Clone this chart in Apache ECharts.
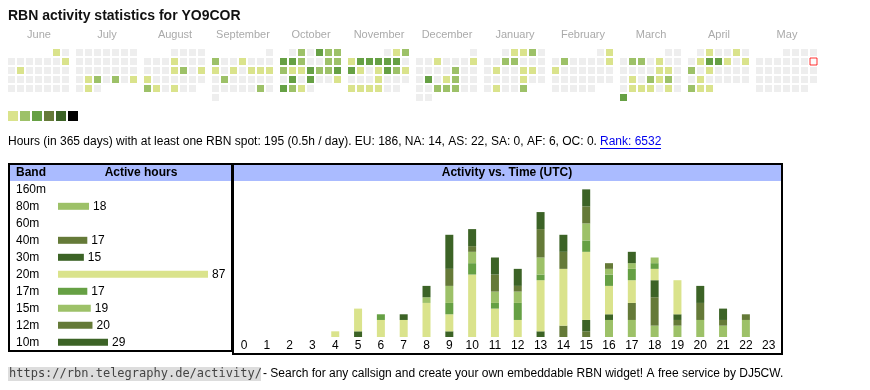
<!DOCTYPE html>
<html><head><meta charset="utf-8">
<script src="https://cdn.jsdelivr.net/npm/echarts@6/dist/echarts.min.js"></script>
<style>html,body{margin:0;padding:0;background:#fff}#c{width:870px;height:390px}</style>
</head><body><div id="c"></div>
<script>
const FONT = '"Liberation Sans", Arial, Helvetica, sans-serif';
const MONO = '"DejaVu Sans Mono", "Liberation Mono", monospace';

// ---- calendar data ----
const months = ['2024-06','2024-07','2024-08','2024-09','2024-10','2024-11','2024-12','2025-01','2025-02','2025-03','2025-04','2025-05'];
const monthNames = ['June','July','August','September','October','November','December','January','February','March','April','May'];
const today = '2025-05-11';
const levelColors = ['#dae38c','#9dc168','#66a044','#657a38','#3c6326','#000000'];
const activeDays = [
  ['2024-06-01',1],['2024-06-09',1],['2024-06-11',1],
  ['2024-07-23',1],['2024-07-24',2],['2024-07-26',2],['2024-07-28',1],['2024-07-30',1],
  ['2024-08-08',1],['2024-08-15',1],['2024-08-16',2],['2024-08-18',1],['2024-08-19',1],['2024-08-26',2],['2024-08-27',1],['2024-08-29',1],
  ['2024-09-02',2],['2024-09-05',1],['2024-09-09',1],['2024-09-11',1],['2024-09-13',1],['2024-09-14',1],['2024-09-15',1],['2024-09-17',2],['2024-09-28',2],
  ['2024-10-02',2],['2024-10-04',3],['2024-10-05',2],['2024-10-06',2],['2024-10-07',3],['2024-10-08',3],['2024-10-09',2],['2024-10-12',2],['2024-10-13',2],
  ['2024-10-14',2],['2024-10-15',1],['2024-10-16',1],['2024-10-17',3],['2024-10-18',2],['2024-10-19',2],['2024-10-20',3],['2024-10-22',3],['2024-10-24',3],
  ['2024-10-27',1],['2024-10-28',3],['2024-10-29',2],['2024-10-30',1],
  ['2024-11-02',1],['2024-11-03',2],['2024-11-04',1],['2024-11-05',3],['2024-11-06',3],['2024-11-07',3],['2024-11-08',3],['2024-11-09',3],
  ['2024-11-11',3],['2024-11-12',1],['2024-11-14',1],['2024-11-15',3],['2024-11-16',2],['2024-11-17',1],['2024-11-21',1],
  ['2024-11-25',1],['2024-11-26',1],['2024-11-27',1],['2024-11-28',1],
  ['2024-12-04',1],['2024-12-08',1],['2024-12-13',2],['2024-12-17',3],['2024-12-19',1],['2024-12-20',2],['2024-12-25',2],['2024-12-26',2],['2024-12-27',2],
  ['2025-01-02',1],['2025-01-03',1],['2025-01-04',2],['2025-01-08',2],['2025-01-09',2],['2025-01-14',1],['2025-01-17',1],['2025-01-18',1],['2025-01-24',1],['2025-01-28',1],['2025-01-31',2],
  ['2025-02-02',1],['2025-02-04',2],['2025-02-09',1],['2025-02-10',1],
  ['2025-03-04',2],['2025-03-05',2],['2025-03-07',1],['2025-03-14',1],['2025-03-15',1],['2025-03-18',1],['2025-03-20',2],['2025-03-21',1],['2025-03-22',2],
  ['2025-03-25',1],['2025-03-26',1],['2025-03-27',1],['2025-03-29',1],['2025-03-31',3],
  ['2025-04-02',1],['2025-04-05',1],['2025-04-08',1],['2025-04-09',3],['2025-04-10',3],['2025-04-11',1],['2025-04-13',1],['2025-04-14',2],['2025-04-16',1],
  ['2025-04-22',1],['2025-04-28',2],['2025-04-29',1],['2025-04-30',1]
];

// ---- band table ----
const bands = ['160m','80m','60m','40m','30m','20m','17m','15m','12m','10m'];
const bandHours = [0,18,0,17,15,87,17,19,20,29];
const bandColors = ['#dae38c','#9dc168','#66a044','#657a38','#3c6326','#dae38c','#66a044','#9dc168','#657a38','#3c6326'];

// ---- activity vs time ----
const hourLabels = ['0','1','2','3','4','5','6','7','8','9','10','11','12','13','14','15','16','17','18','19','20','21','22','23'];
const stackBands = ['80m','40m','30m','20m','17m','15m','12m','10m'];
const h80 = [0,0,0,0,0,0,0,0,0,0,0,0,0,0,0,0,3,3,2,2,3,2,3,0];
const h40 = [0,0,0,0,0,0,0,0,0,0,0,0,0,0,2,1,0,3,5,1,3,1,1,0];
const h30 = [0,0,0,0,0,1,0,0,0,1,0,0,0,1,0,2,1,0,3,1,3,2,0,0];
const h20 = [0,0,0,0,1,4,3,3,6,3,11,5,3,9,10,12,5,4,2,6,0,0,0,0];
const h17 = [0,0,0,0,0,0,1,0,0,2,2,1,3,1,0,2,2,2,1,0,0,0,0,0];
const h15 = [0,0,0,0,0,0,0,0,1,3,2,2,2,3,0,3,1,1,1,0,0,0,0,0];
const h12 = [0,0,0,0,0,0,0,0,0,3,1,3,1,5,3,3,1,0,0,0,0,0,0,0];
const h10 = [0,0,0,0,0,0,0,1,2,6,3,3,3,3,3,3,0,2,0,0,0,0,0,0];
const stackValues = [h80,h40,h30,h20,h17,h15,h12,h10];

const statText = 'Hours (in 365 days) with at least one RBN spot: 195 (0.5h / day). EU: 186, NA: 14, AS: 22, SA: 0, AF: 6, OC: 0.';
const rankText = 'Rank: 6532';
const footUrl = 'https://rbn.telegraphy.de/activity/';
const footText = '- Search for any callsign and create your own embeddable RBN widget! A free service by DJ5CW.';

const chart = echarts.init(document.getElementById('c'), null, {renderer:'canvas'});

const calendars = months.map((m,i)=>({
  orient:'vertical', range:m, left:7+68*i, top:48, cellSize:[9,9],
  splitLine:{show:false},
  itemStyle:{color:'#eeeeee', borderColor:'#ffffff', borderWidth:2},
  dayLabel:{show:false, firstDay:1}, monthLabel:{show:false}, yearLabel:{show:false}
}));

const heatSeries = months.map((m,i)=>({
  type:'heatmap', coordinateSystem:'calendar', calendarIndex:i,
  data: activeDays.filter(d=>d[0].indexOf(m)===0),
  emphasis:{disabled:true}, silent:true
}));

const todaySeries = {
  type:'scatter', coordinateSystem:'calendar', calendarIndex:11,
  data:[[today,0]], symbol:'rect', symbolSize:7,
  itemStyle:{color:'#ffffff', borderColor:'#ff0000', borderWidth:1},
  silent:true, z:5
};

const bandSeries = {
  type:'bar', xAxisIndex:0, yAxisIndex:0, barWidth:7,
  data: bandHours.map((v,i)=>({value:v, itemStyle:{color:bandColors[i]}})),
  label:{show:true, position:'right', distance:4, fontSize:12, fontFamily:FONT, color:'#000',
    formatter:p=>p.value>0?String(p.value):''},
  silent:true
};

const stackSeries = stackBands.map((b,i)=>({
  type:'bar', name:b, stack:'act', xAxisIndex:1, yAxisIndex:1, barWidth:8,
  data: stackValues[i],
  itemStyle:{color: bandColors[bands.indexOf(b)]},
  silent:true
}));

const graphic = [];
monthNames.forEach((n,i)=>{
  graphic.push({type:'text', x:8+68*i+31, y:35, silent:true,
    style:{text:n, font:'11px '+FONT, fill:'#aaaaaa', textAlign:'center', textVerticalAlign:'middle', align:'center', verticalAlign:'middle'}});
});
graphic.push({type:'text', x:8, y:142, style:{text:statText, font:'12px '+FONT, fill:'#000', textVerticalAlign:'middle', verticalAlign:'middle'}});
graphic.push({type:'text', x:600, y:142, style:{text:rankText, font:'12px '+FONT, fill:'#0000ee', textVerticalAlign:'middle', verticalAlign:'middle'}});
graphic.push({type:'line', shape:{x1:600, y1:148.5, x2:661, y2:148.5}, style:{stroke:'#0000ee', lineWidth:1}});
// boxes
graphic.push({type:'rect', shape:{x:10, y:165, width:221, height:16}, style:{fill:'#aabbff'}});
graphic.push({type:'rect', shape:{x:234, y:165, width:547, height:16}, style:{fill:'#aabbff'}});
graphic.push({type:'rect', shape:{x:9, y:164, width:223, height:187}, style:{fill:'none', stroke:'#000', lineWidth:2}, z:100});
graphic.push({type:'rect', shape:{x:233, y:164, width:549, height:190}, style:{fill:'none', stroke:'#000', lineWidth:2}, z:100});
graphic.push({type:'text', x:16, y:173, style:{text:'Band', font:'bold 12px '+FONT, fill:'#000', textVerticalAlign:'middle', verticalAlign:'middle'}});
graphic.push({type:'text', x:141, y:173, style:{text:'Active hours', font:'bold 12px '+FONT, fill:'#000', textAlign:'center', align:'center', textVerticalAlign:'middle', verticalAlign:'middle'}});
graphic.push({type:'text', x:507, y:173, style:{text:'Activity vs. Time (UTC)', font:'bold 12px '+FONT, fill:'#000', textAlign:'center', align:'center', textVerticalAlign:'middle', verticalAlign:'middle'}});
// footer
graphic.push({type:'rect', shape:{x:8, y:367, width:253, height:14}, style:{fill:'#dddddd'}});
graphic.push({type:'text', x:9, y:374, style:{text:footUrl, font:'12px '+MONO, fill:'#444', textVerticalAlign:'middle', verticalAlign:'middle'}});
graphic.push({type:'text', x:263, y:374, style:{text:footText, font:'12px '+FONT, fill:'#000', textVerticalAlign:'middle', verticalAlign:'middle'}});

chart.setOption({
  animation:false,
  backgroundColor:'#ffffff',
  title:{text:'RBN activity statistics for YO9COR', left:8, top:9, padding:0,
    textStyle:{fontSize:14, fontWeight:'bold', fontFamily:FONT, color:'#111'}},
  calendar: calendars,
  visualMap:{
    type:'piecewise', seriesIndex: heatSeries.map((s,i)=>i), orient:'horizontal',
    left:8, top:111, padding:0, itemWidth:10, itemHeight:10, itemGap:2, itemSymbol:'rect',
    showLabel:false, selectedMode:false,
    pieces: levelColors.map((c,i)=>({value:i+1, color:c}))
  },
  grid:[
    {left:58, top:180.8, width:172.4, height:170},
    {left:232.6, top:178, width:547.5, height:159}
  ],
  xAxis:[
    {type:'value', gridIndex:0, min:0, max:100, show:false},
    {type:'category', gridIndex:1, data:hourLabels, axisLine:{show:false}, axisTick:{show:false},
      axisLabel:{interval:0, margin:3, fontSize:12, fontFamily:FONT, color:'#000'}}
  ],
  yAxis:[
    {type:'category', gridIndex:0, data:bands, inverse:true, axisLine:{show:false}, axisTick:{show:false},
      axisLabel:{align:'left', margin:42, fontSize:12, fontFamily:FONT, color:'#000'}},
    {type:'value', gridIndex:1, min:0, max:28, show:false}
  ],
  graphic: graphic,
  series: heatSeries.concat([todaySeries, bandSeries], stackSeries)
});
</script></body></html>
